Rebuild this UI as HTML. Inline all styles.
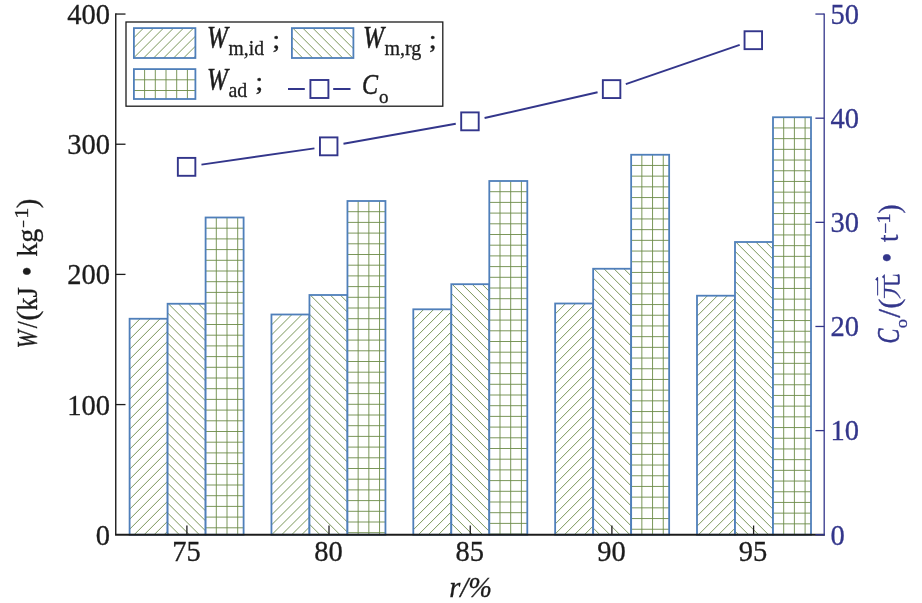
<!DOCTYPE html><html><head><meta charset="utf-8"><title>chart</title><style>html,body{margin:0;padding:0;background:#fff}svg{display:block}</style></head><body><svg width="922" height="603" viewBox="0 0 922 603" font-family='"Liberation Serif", "Noto Serif CJK SC", serif'>
<rect width="922" height="603" fill="#fff"/>
<clipPath id="c1"><rect x="129.60" y="318.75" width="38.00" height="216.00"/></clipPath>
<rect x="129.60" y="318.75" width="38.00" height="216.00" fill="#fff"/>
<path d="M140.10 318.75L129.60 329.25M150.10 318.75L129.60 339.25M160.10 318.75L129.60 349.25M170.10 318.75L129.60 359.25M180.10 318.75L129.60 369.25M190.10 318.75L129.60 379.25M200.10 318.75L129.60 389.25M210.10 318.75L129.60 399.25M220.10 318.75L129.60 409.25M230.10 318.75L129.60 419.25M240.10 318.75L129.60 429.25M250.10 318.75L129.60 439.25M260.10 318.75L129.60 449.25M270.10 318.75L129.60 459.25M280.10 318.75L129.60 469.25M290.10 318.75L129.60 479.25M300.10 318.75L129.60 489.25M310.10 318.75L129.60 499.25M320.10 318.75L129.60 509.25M330.10 318.75L129.60 519.25M340.10 318.75L129.60 529.25M350.10 318.75L129.60 539.25M360.10 318.75L129.60 549.25M370.10 318.75L129.60 559.25M380.10 318.75L129.60 569.25" stroke="#6c8b47" stroke-width="0.9" fill="none" clip-path="url(#c1)"/>
<rect x="129.60" y="318.75" width="38.00" height="216.00" fill="none" stroke="#4f7fba" stroke-width="1.8"/>
<clipPath id="c2"><rect x="167.60" y="303.75" width="38.00" height="231.00"/></clipPath>
<rect x="167.60" y="303.75" width="38.00" height="231.00" fill="#fff"/>
<path d="M-71.60 303.75L159.40 534.75M-61.60 303.75L169.40 534.75M-51.60 303.75L179.40 534.75M-41.60 303.75L189.40 534.75M-31.60 303.75L199.40 534.75M-21.60 303.75L209.40 534.75M-11.60 303.75L219.40 534.75M-1.60 303.75L229.40 534.75M8.40 303.75L239.40 534.75M18.40 303.75L249.40 534.75M28.40 303.75L259.40 534.75M38.40 303.75L269.40 534.75M48.40 303.75L279.40 534.75M58.40 303.75L289.40 534.75M68.40 303.75L299.40 534.75M78.40 303.75L309.40 534.75M88.40 303.75L319.40 534.75M98.40 303.75L329.40 534.75M108.40 303.75L339.40 534.75M118.40 303.75L349.40 534.75M128.40 303.75L359.40 534.75M138.40 303.75L369.40 534.75M148.40 303.75L379.40 534.75M158.40 303.75L389.40 534.75M168.40 303.75L399.40 534.75M178.40 303.75L409.40 534.75M188.40 303.75L419.40 534.75M198.40 303.75L429.40 534.75" stroke="#6c8b47" stroke-width="0.9" fill="none" clip-path="url(#c2)"/>
<rect x="167.60" y="303.75" width="38.00" height="231.00" fill="none" stroke="#4f7fba" stroke-width="1.8"/>
<clipPath id="c3"><rect x="205.60" y="217.50" width="38.00" height="317.25"/></clipPath>
<rect x="205.60" y="217.50" width="38.00" height="317.25" fill="#fff"/>
<path d="M216.30 217.50V534.75M227.00 217.50V534.75M237.70 217.50V534.75M205.60 228.20H243.60M205.60 238.90H243.60M205.60 249.60H243.60M205.60 260.30H243.60M205.60 271.00H243.60M205.60 281.70H243.60M205.60 292.40H243.60M205.60 303.10H243.60M205.60 313.80H243.60M205.60 324.50H243.60M205.60 335.20H243.60M205.60 345.90H243.60M205.60 356.60H243.60M205.60 367.30H243.60M205.60 378.00H243.60M205.60 388.70H243.60M205.60 399.40H243.60M205.60 410.10H243.60M205.60 420.80H243.60M205.60 431.50H243.60M205.60 442.20H243.60M205.60 452.90H243.60M205.60 463.60H243.60M205.60 474.30H243.60M205.60 485.00H243.60M205.60 495.70H243.60M205.60 506.40H243.60M205.60 517.10H243.60M205.60 527.80H243.60" stroke="#6c8b47" stroke-width="0.9" fill="none" clip-path="url(#c3)"/>
<rect x="205.60" y="217.50" width="38.00" height="317.25" fill="none" stroke="#4f7fba" stroke-width="1.8"/>
<clipPath id="c4"><rect x="271.45" y="314.50" width="38.00" height="220.25"/></clipPath>
<rect x="271.45" y="314.50" width="38.00" height="220.25" fill="#fff"/>
<path d="M281.95 314.50L271.45 325.00M291.95 314.50L271.45 335.00M301.95 314.50L271.45 345.00M311.95 314.50L271.45 355.00M321.95 314.50L271.45 365.00M331.95 314.50L271.45 375.00M341.95 314.50L271.45 385.00M351.95 314.50L271.45 395.00M361.95 314.50L271.45 405.00M371.95 314.50L271.45 415.00M381.95 314.50L271.45 425.00M391.95 314.50L271.45 435.00M401.95 314.50L271.45 445.00M411.95 314.50L271.45 455.00M421.95 314.50L271.45 465.00M431.95 314.50L271.45 475.00M441.95 314.50L271.45 485.00M451.95 314.50L271.45 495.00M461.95 314.50L271.45 505.00M471.95 314.50L271.45 515.00M481.95 314.50L271.45 525.00M491.95 314.50L271.45 535.00M501.95 314.50L271.45 545.00M511.95 314.50L271.45 555.00M521.95 314.50L271.45 565.00" stroke="#6c8b47" stroke-width="0.9" fill="none" clip-path="url(#c4)"/>
<rect x="271.45" y="314.50" width="38.00" height="220.25" fill="none" stroke="#4f7fba" stroke-width="1.8"/>
<clipPath id="c5"><rect x="309.45" y="295.00" width="38.00" height="239.75"/></clipPath>
<rect x="309.45" y="295.00" width="38.00" height="239.75" fill="#fff"/>
<path d="M70.25 295.00L310.00 534.75M80.25 295.00L320.00 534.75M90.25 295.00L330.00 534.75M100.25 295.00L340.00 534.75M110.25 295.00L350.00 534.75M120.25 295.00L360.00 534.75M130.25 295.00L370.00 534.75M140.25 295.00L380.00 534.75M150.25 295.00L390.00 534.75M160.25 295.00L400.00 534.75M170.25 295.00L410.00 534.75M180.25 295.00L420.00 534.75M190.25 295.00L430.00 534.75M200.25 295.00L440.00 534.75M210.25 295.00L450.00 534.75M220.25 295.00L460.00 534.75M230.25 295.00L470.00 534.75M240.25 295.00L480.00 534.75M250.25 295.00L490.00 534.75M260.25 295.00L500.00 534.75M270.25 295.00L510.00 534.75M280.25 295.00L520.00 534.75M290.25 295.00L530.00 534.75M300.25 295.00L540.00 534.75M310.25 295.00L550.00 534.75M320.25 295.00L560.00 534.75M330.25 295.00L570.00 534.75M340.25 295.00L580.00 534.75" stroke="#6c8b47" stroke-width="0.9" fill="none" clip-path="url(#c5)"/>
<rect x="309.45" y="295.00" width="38.00" height="239.75" fill="none" stroke="#4f7fba" stroke-width="1.8"/>
<clipPath id="c6"><rect x="347.45" y="201.00" width="38.00" height="333.75"/></clipPath>
<rect x="347.45" y="201.00" width="38.00" height="333.75" fill="#fff"/>
<path d="M358.15 201.00V534.75M368.85 201.00V534.75M379.55 201.00V534.75M347.45 211.70H385.45M347.45 222.40H385.45M347.45 233.10H385.45M347.45 243.80H385.45M347.45 254.50H385.45M347.45 265.20H385.45M347.45 275.90H385.45M347.45 286.60H385.45M347.45 297.30H385.45M347.45 308.00H385.45M347.45 318.70H385.45M347.45 329.40H385.45M347.45 340.10H385.45M347.45 350.80H385.45M347.45 361.50H385.45M347.45 372.20H385.45M347.45 382.90H385.45M347.45 393.60H385.45M347.45 404.30H385.45M347.45 415.00H385.45M347.45 425.70H385.45M347.45 436.40H385.45M347.45 447.10H385.45M347.45 457.80H385.45M347.45 468.50H385.45M347.45 479.20H385.45M347.45 489.90H385.45M347.45 500.60H385.45M347.45 511.30H385.45M347.45 522.00H385.45M347.45 532.70H385.45" stroke="#6c8b47" stroke-width="0.9" fill="none" clip-path="url(#c6)"/>
<rect x="347.45" y="201.00" width="38.00" height="333.75" fill="none" stroke="#4f7fba" stroke-width="1.8"/>
<clipPath id="c7"><rect x="413.30" y="309.30" width="38.00" height="225.45"/></clipPath>
<rect x="413.30" y="309.30" width="38.00" height="225.45" fill="#fff"/>
<path d="M423.80 309.30L413.30 319.80M433.80 309.30L413.30 329.80M443.80 309.30L413.30 339.80M453.80 309.30L413.30 349.80M463.80 309.30L413.30 359.80M473.80 309.30L413.30 369.80M483.80 309.30L413.30 379.80M493.80 309.30L413.30 389.80M503.80 309.30L413.30 399.80M513.80 309.30L413.30 409.80M523.80 309.30L413.30 419.80M533.80 309.30L413.30 429.80M543.80 309.30L413.30 439.80M553.80 309.30L413.30 449.80M563.80 309.30L413.30 459.80M573.80 309.30L413.30 469.80M583.80 309.30L413.30 479.80M593.80 309.30L413.30 489.80M603.80 309.30L413.30 499.80M613.80 309.30L413.30 509.80M623.80 309.30L413.30 519.80M633.80 309.30L413.30 529.80M643.80 309.30L413.30 539.80M653.80 309.30L413.30 549.80M663.80 309.30L413.30 559.80M673.80 309.30L413.30 569.80" stroke="#6c8b47" stroke-width="0.9" fill="none" clip-path="url(#c7)"/>
<rect x="413.30" y="309.30" width="38.00" height="225.45" fill="none" stroke="#4f7fba" stroke-width="1.8"/>
<clipPath id="c8"><rect x="451.30" y="284.20" width="38.00" height="250.55"/></clipPath>
<rect x="451.30" y="284.20" width="38.00" height="250.55" fill="#fff"/>
<path d="M192.10 284.20L442.65 534.75M202.10 284.20L452.65 534.75M212.10 284.20L462.65 534.75M222.10 284.20L472.65 534.75M232.10 284.20L482.65 534.75M242.10 284.20L492.65 534.75M252.10 284.20L502.65 534.75M262.10 284.20L512.65 534.75M272.10 284.20L522.65 534.75M282.10 284.20L532.65 534.75M292.10 284.20L542.65 534.75M302.10 284.20L552.65 534.75M312.10 284.20L562.65 534.75M322.10 284.20L572.65 534.75M332.10 284.20L582.65 534.75M342.10 284.20L592.65 534.75M352.10 284.20L602.65 534.75M362.10 284.20L612.65 534.75M372.10 284.20L622.65 534.75M382.10 284.20L632.65 534.75M392.10 284.20L642.65 534.75M402.10 284.20L652.65 534.75M412.10 284.20L662.65 534.75M422.10 284.20L672.65 534.75M432.10 284.20L682.65 534.75M442.10 284.20L692.65 534.75M452.10 284.20L702.65 534.75M462.10 284.20L712.65 534.75M472.10 284.20L722.65 534.75M482.10 284.20L732.65 534.75" stroke="#6c8b47" stroke-width="0.9" fill="none" clip-path="url(#c8)"/>
<rect x="451.30" y="284.20" width="38.00" height="250.55" fill="none" stroke="#4f7fba" stroke-width="1.8"/>
<clipPath id="c9"><rect x="489.30" y="181.00" width="38.00" height="353.75"/></clipPath>
<rect x="489.30" y="181.00" width="38.00" height="353.75" fill="#fff"/>
<path d="M500.00 181.00V534.75M510.70 181.00V534.75M521.40 181.00V534.75M489.30 191.70H527.30M489.30 202.40H527.30M489.30 213.10H527.30M489.30 223.80H527.30M489.30 234.50H527.30M489.30 245.20H527.30M489.30 255.90H527.30M489.30 266.60H527.30M489.30 277.30H527.30M489.30 288.00H527.30M489.30 298.70H527.30M489.30 309.40H527.30M489.30 320.10H527.30M489.30 330.80H527.30M489.30 341.50H527.30M489.30 352.20H527.30M489.30 362.90H527.30M489.30 373.60H527.30M489.30 384.30H527.30M489.30 395.00H527.30M489.30 405.70H527.30M489.30 416.40H527.30M489.30 427.10H527.30M489.30 437.80H527.30M489.30 448.50H527.30M489.30 459.20H527.30M489.30 469.90H527.30M489.30 480.60H527.30M489.30 491.30H527.30M489.30 502.00H527.30M489.30 512.70H527.30M489.30 523.40H527.30M489.30 534.10H527.30" stroke="#6c8b47" stroke-width="0.9" fill="none" clip-path="url(#c9)"/>
<rect x="489.30" y="181.00" width="38.00" height="353.75" fill="none" stroke="#4f7fba" stroke-width="1.8"/>
<clipPath id="c10"><rect x="555.15" y="303.50" width="38.00" height="231.25"/></clipPath>
<rect x="555.15" y="303.50" width="38.00" height="231.25" fill="#fff"/>
<path d="M565.65 303.50L555.15 314.00M575.65 303.50L555.15 324.00M585.65 303.50L555.15 334.00M595.65 303.50L555.15 344.00M605.65 303.50L555.15 354.00M615.65 303.50L555.15 364.00M625.65 303.50L555.15 374.00M635.65 303.50L555.15 384.00M645.65 303.50L555.15 394.00M655.65 303.50L555.15 404.00M665.65 303.50L555.15 414.00M675.65 303.50L555.15 424.00M685.65 303.50L555.15 434.00M695.65 303.50L555.15 444.00M705.65 303.50L555.15 454.00M715.65 303.50L555.15 464.00M725.65 303.50L555.15 474.00M735.65 303.50L555.15 484.00M745.65 303.50L555.15 494.00M755.65 303.50L555.15 504.00M765.65 303.50L555.15 514.00M775.65 303.50L555.15 524.00M785.65 303.50L555.15 534.00M795.65 303.50L555.15 544.00M805.65 303.50L555.15 554.00M815.65 303.50L555.15 564.00" stroke="#6c8b47" stroke-width="0.9" fill="none" clip-path="url(#c10)"/>
<rect x="555.15" y="303.50" width="38.00" height="231.25" fill="none" stroke="#4f7fba" stroke-width="1.8"/>
<clipPath id="c11"><rect x="593.15" y="268.75" width="38.00" height="266.00"/></clipPath>
<rect x="593.15" y="268.75" width="38.00" height="266.00" fill="#fff"/>
<path d="M323.95 268.75L589.95 534.75M333.95 268.75L599.95 534.75M343.95 268.75L609.95 534.75M353.95 268.75L619.95 534.75M363.95 268.75L629.95 534.75M373.95 268.75L639.95 534.75M383.95 268.75L649.95 534.75M393.95 268.75L659.95 534.75M403.95 268.75L669.95 534.75M413.95 268.75L679.95 534.75M423.95 268.75L689.95 534.75M433.95 268.75L699.95 534.75M443.95 268.75L709.95 534.75M453.95 268.75L719.95 534.75M463.95 268.75L729.95 534.75M473.95 268.75L739.95 534.75M483.95 268.75L749.95 534.75M493.95 268.75L759.95 534.75M503.95 268.75L769.95 534.75M513.95 268.75L779.95 534.75M523.95 268.75L789.95 534.75M533.95 268.75L799.95 534.75M543.95 268.75L809.95 534.75M553.95 268.75L819.95 534.75M563.95 268.75L829.95 534.75M573.95 268.75L839.95 534.75M583.95 268.75L849.95 534.75M593.95 268.75L859.95 534.75M603.95 268.75L869.95 534.75M613.95 268.75L879.95 534.75M623.95 268.75L889.95 534.75" stroke="#6c8b47" stroke-width="0.9" fill="none" clip-path="url(#c11)"/>
<rect x="593.15" y="268.75" width="38.00" height="266.00" fill="none" stroke="#4f7fba" stroke-width="1.8"/>
<clipPath id="c12"><rect x="631.15" y="154.75" width="38.00" height="380.00"/></clipPath>
<rect x="631.15" y="154.75" width="38.00" height="380.00" fill="#fff"/>
<path d="M641.85 154.75V534.75M652.55 154.75V534.75M663.25 154.75V534.75M631.15 165.45H669.15M631.15 176.15H669.15M631.15 186.85H669.15M631.15 197.55H669.15M631.15 208.25H669.15M631.15 218.95H669.15M631.15 229.65H669.15M631.15 240.35H669.15M631.15 251.05H669.15M631.15 261.75H669.15M631.15 272.45H669.15M631.15 283.15H669.15M631.15 293.85H669.15M631.15 304.55H669.15M631.15 315.25H669.15M631.15 325.95H669.15M631.15 336.65H669.15M631.15 347.35H669.15M631.15 358.05H669.15M631.15 368.75H669.15M631.15 379.45H669.15M631.15 390.15H669.15M631.15 400.85H669.15M631.15 411.55H669.15M631.15 422.25H669.15M631.15 432.95H669.15M631.15 443.65H669.15M631.15 454.35H669.15M631.15 465.05H669.15M631.15 475.75H669.15M631.15 486.45H669.15M631.15 497.15H669.15M631.15 507.85H669.15M631.15 518.55H669.15M631.15 529.25H669.15" stroke="#6c8b47" stroke-width="0.9" fill="none" clip-path="url(#c12)"/>
<rect x="631.15" y="154.75" width="38.00" height="380.00" fill="none" stroke="#4f7fba" stroke-width="1.8"/>
<clipPath id="c13"><rect x="697.00" y="295.70" width="38.00" height="239.05"/></clipPath>
<rect x="697.00" y="295.70" width="38.00" height="239.05" fill="#fff"/>
<path d="M707.50 295.70L697.00 306.20M717.50 295.70L697.00 316.20M727.50 295.70L697.00 326.20M737.50 295.70L697.00 336.20M747.50 295.70L697.00 346.20M757.50 295.70L697.00 356.20M767.50 295.70L697.00 366.20M777.50 295.70L697.00 376.20M787.50 295.70L697.00 386.20M797.50 295.70L697.00 396.20M807.50 295.70L697.00 406.20M817.50 295.70L697.00 416.20M827.50 295.70L697.00 426.20M837.50 295.70L697.00 436.20M847.50 295.70L697.00 446.20M857.50 295.70L697.00 456.20M867.50 295.70L697.00 466.20M877.50 295.70L697.00 476.20M887.50 295.70L697.00 486.20M897.50 295.70L697.00 496.20M907.50 295.70L697.00 506.20M917.50 295.70L697.00 516.20M927.50 295.70L697.00 526.20M937.50 295.70L697.00 536.20M947.50 295.70L697.00 546.20M957.50 295.70L697.00 556.20M967.50 295.70L697.00 566.20" stroke="#6c8b47" stroke-width="0.9" fill="none" clip-path="url(#c13)"/>
<rect x="697.00" y="295.70" width="38.00" height="239.05" fill="none" stroke="#4f7fba" stroke-width="1.8"/>
<clipPath id="c14"><rect x="735.00" y="242.00" width="38.00" height="292.75"/></clipPath>
<rect x="735.00" y="242.00" width="38.00" height="292.75" fill="#fff"/>
<path d="M435.80 242.00L728.55 534.75M445.80 242.00L738.55 534.75M455.80 242.00L748.55 534.75M465.80 242.00L758.55 534.75M475.80 242.00L768.55 534.75M485.80 242.00L778.55 534.75M495.80 242.00L788.55 534.75M505.80 242.00L798.55 534.75M515.80 242.00L808.55 534.75M525.80 242.00L818.55 534.75M535.80 242.00L828.55 534.75M545.80 242.00L838.55 534.75M555.80 242.00L848.55 534.75M565.80 242.00L858.55 534.75M575.80 242.00L868.55 534.75M585.80 242.00L878.55 534.75M595.80 242.00L888.55 534.75M605.80 242.00L898.55 534.75M615.80 242.00L908.55 534.75M625.80 242.00L918.55 534.75M635.80 242.00L928.55 534.75M645.80 242.00L938.55 534.75M655.80 242.00L948.55 534.75M665.80 242.00L958.55 534.75M675.80 242.00L968.55 534.75M685.80 242.00L978.55 534.75M695.80 242.00L988.55 534.75M705.80 242.00L998.55 534.75M715.80 242.00L1008.55 534.75M725.80 242.00L1018.55 534.75M735.80 242.00L1028.55 534.75M745.80 242.00L1038.55 534.75M755.80 242.00L1048.55 534.75M765.80 242.00L1058.55 534.75" stroke="#6c8b47" stroke-width="0.9" fill="none" clip-path="url(#c14)"/>
<rect x="735.00" y="242.00" width="38.00" height="292.75" fill="none" stroke="#4f7fba" stroke-width="1.8"/>
<clipPath id="c15"><rect x="773.00" y="117.25" width="38.00" height="417.50"/></clipPath>
<rect x="773.00" y="117.25" width="38.00" height="417.50" fill="#fff"/>
<path d="M783.70 117.25V534.75M794.40 117.25V534.75M805.10 117.25V534.75M773.00 127.95H811.00M773.00 138.65H811.00M773.00 149.35H811.00M773.00 160.05H811.00M773.00 170.75H811.00M773.00 181.45H811.00M773.00 192.15H811.00M773.00 202.85H811.00M773.00 213.55H811.00M773.00 224.25H811.00M773.00 234.95H811.00M773.00 245.65H811.00M773.00 256.35H811.00M773.00 267.05H811.00M773.00 277.75H811.00M773.00 288.45H811.00M773.00 299.15H811.00M773.00 309.85H811.00M773.00 320.55H811.00M773.00 331.25H811.00M773.00 341.95H811.00M773.00 352.65H811.00M773.00 363.35H811.00M773.00 374.05H811.00M773.00 384.75H811.00M773.00 395.45H811.00M773.00 406.15H811.00M773.00 416.85H811.00M773.00 427.55H811.00M773.00 438.25H811.00M773.00 448.95H811.00M773.00 459.65H811.00M773.00 470.35H811.00M773.00 481.05H811.00M773.00 491.75H811.00M773.00 502.45H811.00M773.00 513.15H811.00M773.00 523.85H811.00M773.00 534.55H811.00" stroke="#6c8b47" stroke-width="0.9" fill="none" clip-path="url(#c15)"/>
<rect x="773.00" y="117.25" width="38.00" height="417.50" fill="none" stroke="#4f7fba" stroke-width="1.8"/>
<path d="M115.75 13.3V534.75" stroke="#1c1c1c" stroke-width="1.4" fill="none"/>
<path d="M115.05 534.75H824.8" stroke="#1c1c1c" stroke-width="1.9" fill="none"/>
<path d="M824.2 13.6V535.55" stroke="#33368b" stroke-width="1.3" fill="none"/>
<text stroke="#1c1c1c" stroke-width="0.3" x="110.1" y="544.75" font-size="28.5" text-anchor="end" fill="#1c1c1c">0</text>
<path d="M116 404.58H125.5" stroke="#1c1c1c" stroke-width="1.3"/>
<text stroke="#1c1c1c" stroke-width="0.3" x="110.1" y="414.58" font-size="28.5" text-anchor="end" fill="#1c1c1c">100</text>
<path d="M116 274.40H125.5" stroke="#1c1c1c" stroke-width="1.3"/>
<text stroke="#1c1c1c" stroke-width="0.3" x="110.1" y="284.40" font-size="28.5" text-anchor="end" fill="#1c1c1c">200</text>
<path d="M116 144.23H125.5" stroke="#1c1c1c" stroke-width="1.3"/>
<text stroke="#1c1c1c" stroke-width="0.3" x="110.1" y="154.23" font-size="28.5" text-anchor="end" fill="#1c1c1c">300</text>
<path d="M116 14.05H125.5" stroke="#1c1c1c" stroke-width="1.3"/>
<text stroke="#1c1c1c" stroke-width="0.3" x="110.1" y="24.05" font-size="28.5" text-anchor="end" fill="#1c1c1c">400</text>
<path d="M815.4 534.75H824.2" stroke="#33368b" stroke-width="1.3"/>
<text stroke="#33368b" stroke-width="0.3" x="830.5" y="544.50" font-size="28.5" fill="#33368b">0</text>
<path d="M815.4 430.61H824.2" stroke="#33368b" stroke-width="1.3"/>
<text stroke="#33368b" stroke-width="0.3" x="830.5" y="440.36" font-size="28.5" fill="#33368b">10</text>
<path d="M815.4 326.47H824.2" stroke="#33368b" stroke-width="1.3"/>
<text stroke="#33368b" stroke-width="0.3" x="830.5" y="336.22" font-size="28.5" fill="#33368b">20</text>
<path d="M815.4 222.33H824.2" stroke="#33368b" stroke-width="1.3"/>
<text stroke="#33368b" stroke-width="0.3" x="830.5" y="232.08" font-size="28.5" fill="#33368b">30</text>
<path d="M815.4 118.19H824.2" stroke="#33368b" stroke-width="1.3"/>
<text stroke="#33368b" stroke-width="0.3" x="830.5" y="127.94" font-size="28.5" fill="#33368b">40</text>
<path d="M815.4 14.05H824.2" stroke="#33368b" stroke-width="1.3"/>
<text stroke="#33368b" stroke-width="0.3" x="830.5" y="23.80" font-size="28.5" fill="#33368b">50</text>
<path d="M186.9 534.75V525.5" stroke="#1c1c1c" stroke-width="1.3"/>
<text stroke="#1c1c1c" stroke-width="0.3" x="186.4" y="560.7" font-size="28.5" text-anchor="middle" fill="#1c1c1c">75</text>
<path d="M329 534.75V525.5" stroke="#1c1c1c" stroke-width="1.3"/>
<text stroke="#1c1c1c" stroke-width="0.3" x="328.5" y="560.7" font-size="28.5" text-anchor="middle" fill="#1c1c1c">80</text>
<path d="M470.25 534.75V525.5" stroke="#1c1c1c" stroke-width="1.3"/>
<text stroke="#1c1c1c" stroke-width="0.3" x="469.75" y="560.7" font-size="28.5" text-anchor="middle" fill="#1c1c1c">85</text>
<path d="M611.9 534.75V525.5" stroke="#1c1c1c" stroke-width="1.3"/>
<text stroke="#1c1c1c" stroke-width="0.3" x="611.4" y="560.7" font-size="28.5" text-anchor="middle" fill="#1c1c1c">90</text>
<path d="M753.6 534.75V525.5" stroke="#1c1c1c" stroke-width="1.3"/>
<text stroke="#1c1c1c" stroke-width="0.3" x="753.1" y="560.7" font-size="28.5" text-anchor="middle" fill="#1c1c1c">95</text>
<text stroke="#1c1c1c" stroke-width="0.3" x="470.5" y="596.5" font-size="28.5" font-style="italic" text-anchor="middle" fill="#1c1c1c">r/%</text>
<text stroke="#1c1c1c" stroke-width="0.55" transform="translate(36.70 348.19) rotate(-90) scale(0.726 1)" font-size="29.5" font-style="italic" fill="#1c1c1c">W</text>
<text stroke="#1c1c1c" stroke-width="0.3" transform="translate(36.70 328.20) rotate(-90) scale(0.878 1)" font-size="29" fill="#1c1c1c">/</text>
<text stroke="#1c1c1c" stroke-width="0.3" transform="translate(37.30 320.68) rotate(-90) scale(1.003 1)" font-size="30.5" fill="#1c1c1c">(</text>
<text stroke="#1c1c1c" stroke-width="0.3" transform="translate(36.70 310.83) rotate(-90) scale(0.937 1)" font-size="28.5" fill="#1c1c1c">kJ</text>
<text stroke="#1c1c1c" stroke-width="0.3" transform="translate(38.05 276.50) rotate(-90) scale(0.941 1)" font-size="31" fill="#1c1c1c">•</text>
<text stroke="#1c1c1c" stroke-width="0.3" transform="translate(36.70 256.76) rotate(-90) scale(0.983 1)" font-size="28.5" fill="#1c1c1c">kg</text>
<text stroke="#1c1c1c" stroke-width="0.3" transform="translate(29.90 227.78) rotate(-90) scale(0.713 1)" font-size="19" fill="#1c1c1c">−</text>
<text stroke="#1c1c1c" stroke-width="0.3" transform="translate(27.70 218.71) rotate(-90) scale(1.173 1)" font-size="19" fill="#1c1c1c">1</text>
<text stroke="#1c1c1c" stroke-width="0.3" transform="translate(37.30 208.27) rotate(-90) scale(0.946 1)" font-size="30.5" fill="#1c1c1c">)</text>
<text stroke="#33368b" stroke-width="0.55" transform="translate(898.80 343.62) rotate(-90) scale(0.718 1)" font-size="31" font-style="italic" fill="#33368b">C</text>
<text stroke="#33368b" stroke-width="0.3" transform="translate(906.60 328.24) rotate(-90) scale(1.061 1)" font-size="17.5" fill="#33368b">o</text>
<text stroke="#33368b" stroke-width="0.3" transform="translate(899.60 317.80) rotate(-90) scale(1.009 1)" font-size="31" fill="#33368b">/</text>
<text stroke="#33368b" stroke-width="0.3" transform="translate(898.60 308.68) rotate(-90) scale(1.003 1)" font-size="30.5" fill="#33368b">(</text>
<text stroke="#33368b" stroke-width="0.3" transform="translate(898.00 299.31) rotate(-90) scale(0.966 1)" font-size="26.8" fill="#33368b">元</text>
<text stroke="#33368b" stroke-width="0.3" transform="translate(897.55 262.80) rotate(-90) scale(0.941 1)" font-size="31" fill="#33368b">•</text>
<text stroke="#33368b" stroke-width="0.3" transform="translate(897.60 242.07) rotate(-90) scale(0.945 1)" font-size="28.5" fill="#33368b">t</text>
<text stroke="#33368b" stroke-width="0.3" transform="translate(891.70 233.79) rotate(-90) scale(1.041 1)" font-size="19" fill="#33368b">−</text>
<text stroke="#33368b" stroke-width="0.3" transform="translate(889.60 223.53) rotate(-90) scale(1.068 1)" font-size="19" fill="#33368b">1</text>
<text stroke="#33368b" stroke-width="0.3" transform="translate(898.60 213.52) rotate(-90) scale(0.895 1)" font-size="30.5" fill="#33368b">)</text>
<path d="M201.45 164.65L314.45 148.35" stroke="#33368b" stroke-width="1.9"/>
<path d="M343.48 143.69L455.77 123.81" stroke="#33368b" stroke-width="1.9"/>
<path d="M484.58 117.99L597.57 92.26" stroke="#33368b" stroke-width="1.9"/>
<path d="M625.80 84.20L739.70 44.90" stroke="#33368b" stroke-width="1.9"/>
<rect x="177.85" y="157.90" width="17.5" height="17.9" fill="#fff" stroke="#33368b" stroke-width="1.9"/>
<rect x="319.95" y="137.40" width="17.5" height="17.9" fill="#fff" stroke="#33368b" stroke-width="1.9"/>
<rect x="461.20" y="112.40" width="17.5" height="17.9" fill="#fff" stroke="#33368b" stroke-width="1.9"/>
<rect x="602.85" y="80.15" width="17.5" height="17.9" fill="#fff" stroke="#33368b" stroke-width="1.9"/>
<rect x="744.55" y="31.25" width="17.5" height="17.9" fill="#fff" stroke="#33368b" stroke-width="1.9"/>
<rect x="126" y="22" width="316.8" height="84.2" fill="#fff" stroke="#1c1c1c" stroke-width="1.3"/>
<clipPath id="c16"><rect x="133.90" y="28.10" width="61.50" height="29.90"/></clipPath>
<path d="M143.50 28.10L133.90 37.70M153.50 28.10L133.90 47.70M163.50 28.10L133.90 57.70M173.50 28.10L133.90 67.70M183.50 28.10L133.90 77.70M193.50 28.10L133.90 87.70M203.50 28.10L133.90 97.70M213.50 28.10L133.90 107.70M223.50 28.10L133.90 117.70" stroke="#6c8b47" stroke-width="0.9" fill="none" clip-path="url(#c16)"/>
<rect x="133.90" y="28.10" width="61.50" height="29.90" fill="none" stroke="#4f7fba" stroke-width="1.8"/>
<clipPath id="c17"><rect x="291.90" y="28.10" width="61.50" height="29.90"/></clipPath>
<path d="M262.80 28.10L292.70 58.00M272.80 28.10L302.70 58.00M282.80 28.10L312.70 58.00M292.80 28.10L322.70 58.00M302.80 28.10L332.70 58.00M312.80 28.10L342.70 58.00M322.80 28.10L352.70 58.00M332.80 28.10L362.70 58.00M342.80 28.10L372.70 58.00M352.80 28.10L382.70 58.00" stroke="#6c8b47" stroke-width="0.9" fill="none" clip-path="url(#c17)"/>
<rect x="291.90" y="28.10" width="61.50" height="29.90" fill="none" stroke="#4f7fba" stroke-width="1.8"/>
<clipPath id="c18"><rect x="133.90" y="69.10" width="61.50" height="29.90"/></clipPath>
<path d="M144.60 69.10V99.00M155.30 69.10V99.00M166.00 69.10V99.00M176.70 69.10V99.00M187.40 69.10V99.00M133.90 79.80H195.40M133.90 90.50H195.40" stroke="#6c8b47" stroke-width="0.9" fill="none" clip-path="url(#c18)"/>
<rect x="133.90" y="69.10" width="61.50" height="29.90" fill="none" stroke="#4f7fba" stroke-width="1.8"/>
<path d="M288 89H304.8M333.2 89H350.5" stroke="#33368b" stroke-width="1.9"/>
<rect x="310.4" y="80" width="18" height="18" fill="#fff" stroke="#33368b" stroke-width="1.9"/>
<text stroke="#1c1c1c" stroke-width="0.55" transform="translate(206.88 47.50) scale(0.793 1)" font-size="31.5" font-style="italic" fill="#1c1c1c">W</text>
<text stroke="#1c1c1c" stroke-width="0.3" transform="translate(228.61 55.40) scale(0.956 1)" font-size="20.5" fill="#1c1c1c">m,id</text>
<text stroke="#1c1c1c" stroke-width="0.3" transform="translate(272.17 47.70) scale(1.103 1)" font-size="26" fill="#1c1c1c">;</text>
<text stroke="#1c1c1c" stroke-width="0.55" transform="translate(362.96 47.50) scale(0.800 1)" font-size="31.5" font-style="italic" fill="#1c1c1c">W</text>
<text stroke="#1c1c1c" stroke-width="0.3" transform="translate(384.50 55.40) scale(0.976 1)" font-size="20.5" fill="#1c1c1c">m,rg</text>
<text stroke="#1c1c1c" stroke-width="0.3" transform="translate(428.67 47.70) scale(1.103 1)" font-size="26" fill="#1c1c1c">;</text>
<text stroke="#1c1c1c" stroke-width="0.55" transform="translate(206.88 89.50) scale(0.793 1)" font-size="31.5" font-style="italic" fill="#1c1c1c">W</text>
<text stroke="#1c1c1c" stroke-width="0.3" transform="translate(228.50 97.40) scale(0.970 1)" font-size="20.5" fill="#1c1c1c">ad</text>
<text stroke="#1c1c1c" stroke-width="0.3" transform="translate(255.27 89.70) scale(1.103 1)" font-size="26" fill="#1c1c1c">;</text>
<text stroke="#1c1c1c" stroke-width="0.55" transform="translate(361.98 94.40) scale(0.788 1)" font-size="30.5" font-style="italic" fill="#1c1c1c">C</text>
<text stroke="#1c1c1c" stroke-width="0.3" transform="translate(379.04 102.60) scale(1.030 1)" font-size="18.5" fill="#1c1c1c">o</text>
</svg></body></html>
